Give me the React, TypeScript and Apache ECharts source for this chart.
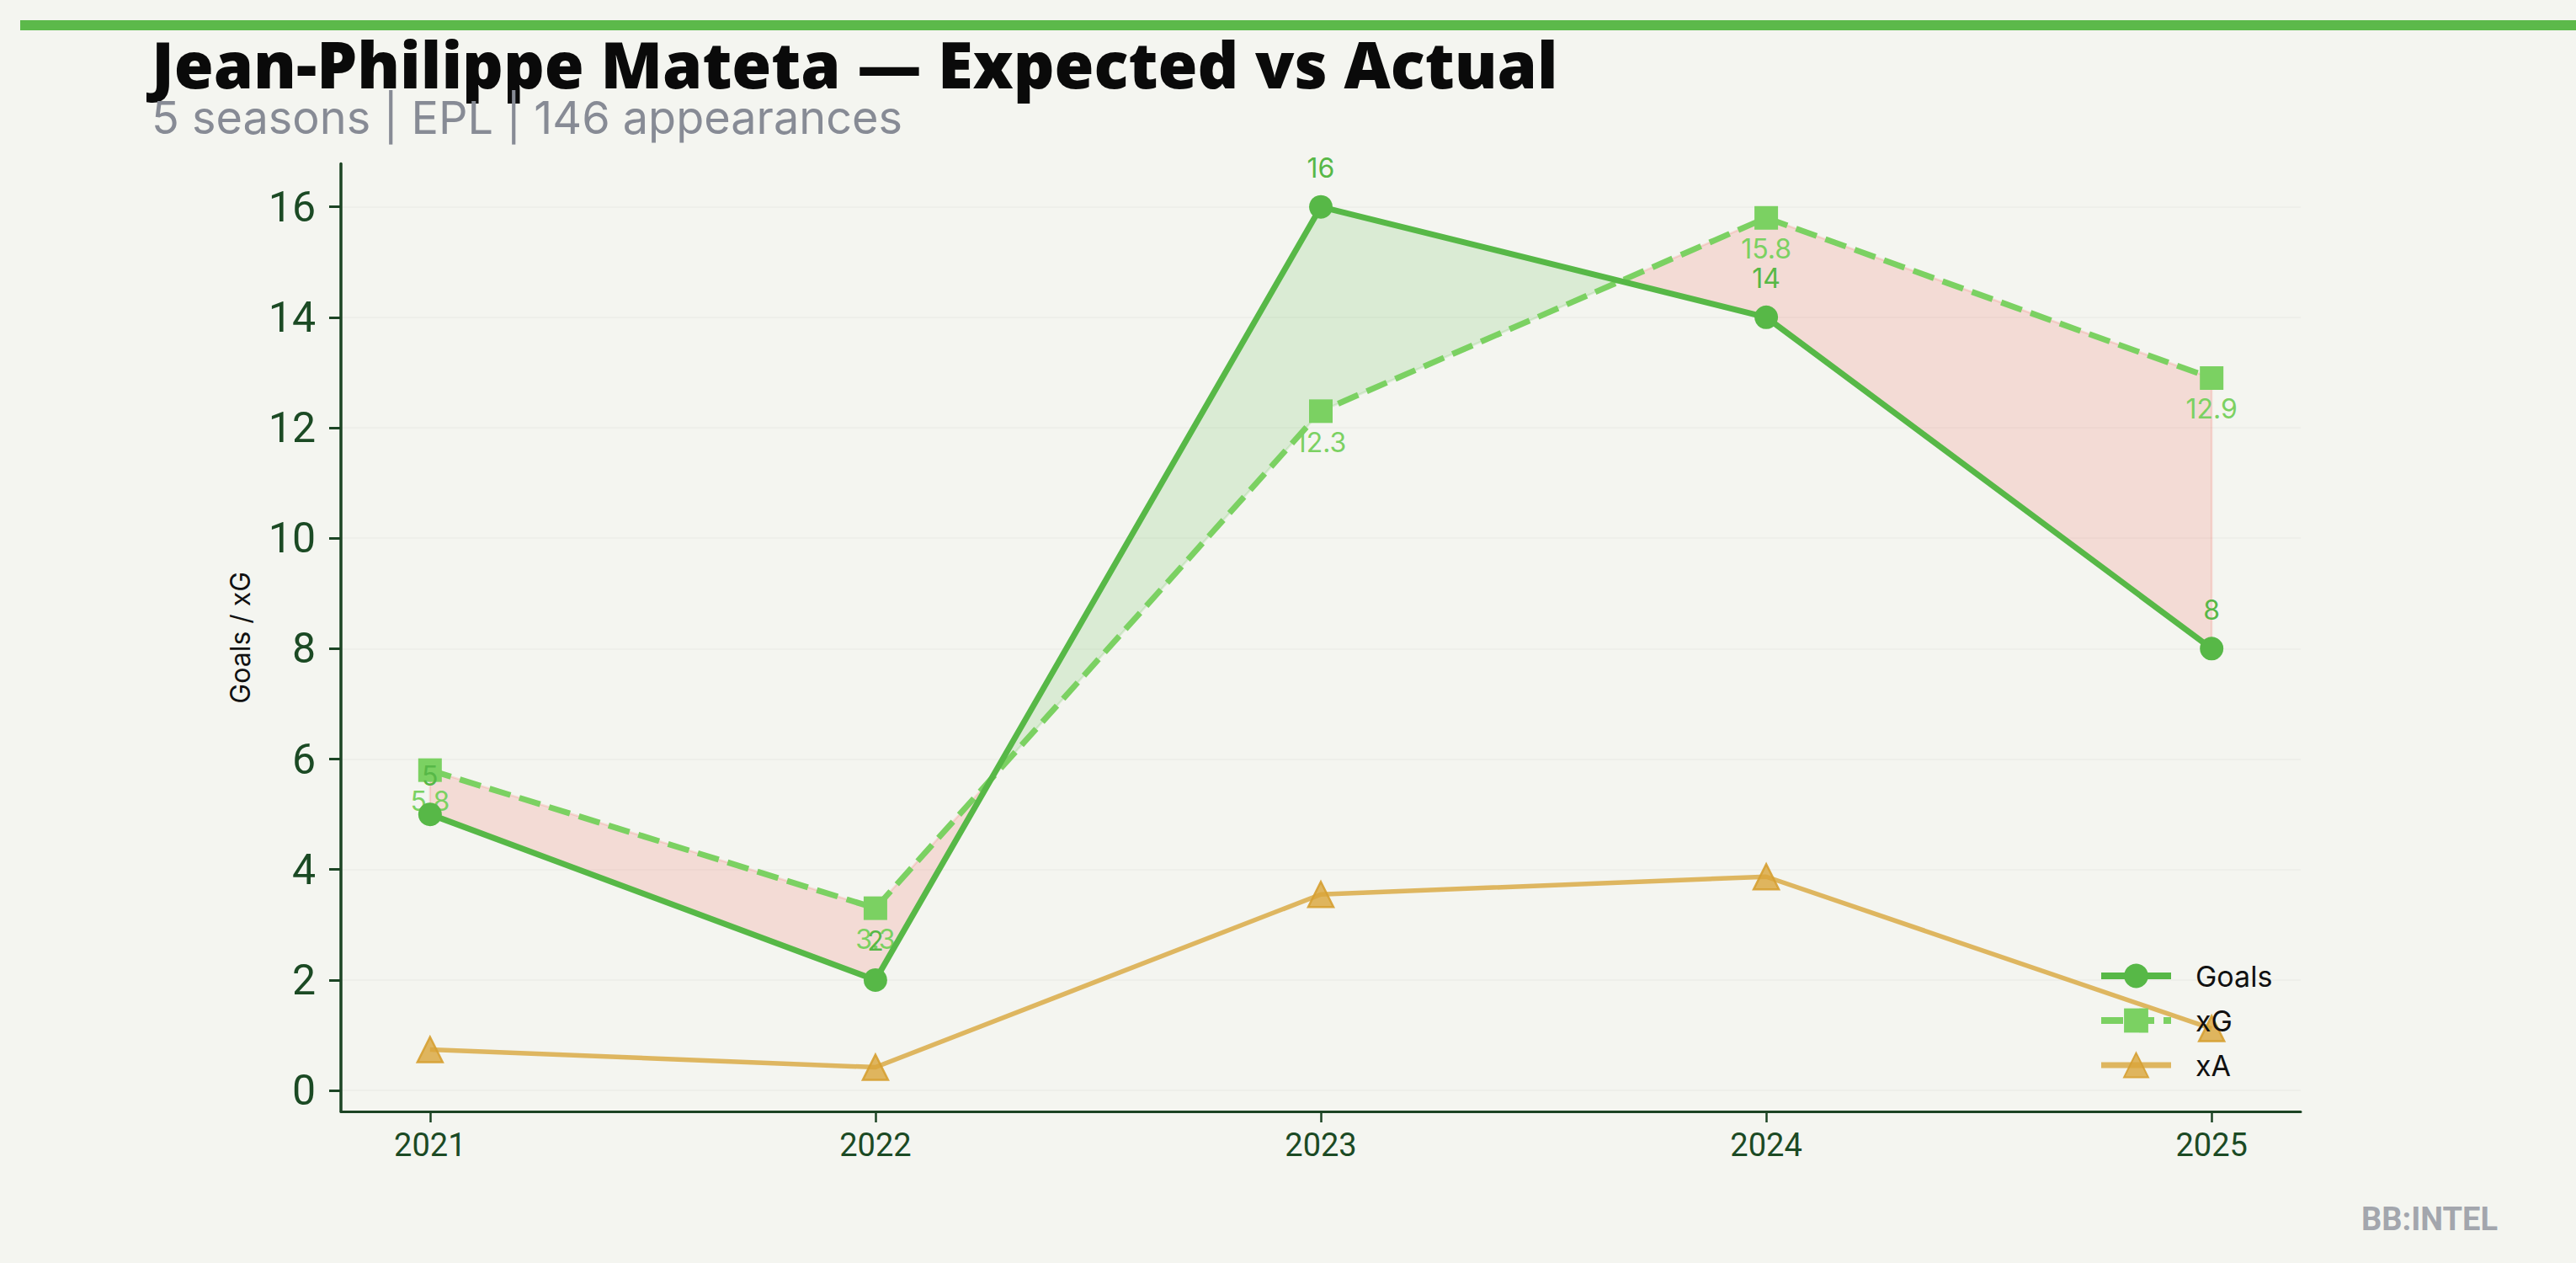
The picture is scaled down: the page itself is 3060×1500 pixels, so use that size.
import React, { useEffect, useRef } from 'react';
import * as echarts from 'echarts';

const seasons = [2021, 2022, 2023, 2024, 2025];
const goals = [5, 2, 16, 14, 8];
const xg = [5.8, 3.3, 12.3, 15.8, 12.9];
const xa = [0.74, 0.42, 3.55, 3.87, 1.12];
const yTicks = [0, 2, 4, 6, 8, 10, 12, 14, 16];
const seriesNames = ['Goals', 'xG', 'xA'];

const TITLE = 'Jean-Philippe Mateta — Expected vs Actual';
const SUBTITLE = '5 seasons | EPL | 146 appearances';
const WATERMARK = 'BB:INTEL';

const BG = '#f4f5f0';
const GOALS_C = '#57b847';
const XG_C = '#7bd162';
const XA_C = '#d9a83f';
const AXIS_C = '#1c4424';
const TICK_TEXT_C = '#1b4a24';
const POS_FILL = 'rgba(87,184,71,0.16)';
const NEG_FILL = 'rgba(240,85,75,0.16)';

type Pt = [number, number];

function buildRegions() {
  const regions: { pos: boolean; g: Pt[]; x: Pt[] }[] = [];
  const d = goals.map((g, i) => g - xg[i]);
  let cur = { pos: d[0] >= 0, g: [[seasons[0], goals[0]] as Pt], x: [[seasons[0], xg[0]] as Pt] };
  for (let i = 0; i < seasons.length - 1; i++) {
    if (d[i] * d[i + 1] < 0) {
      const f = d[i] / (d[i] - d[i + 1]);
      const tc = seasons[i] + f * (seasons[i + 1] - seasons[i]);
      const yc = goals[i] + f * (goals[i + 1] - goals[i]);
      cur.g.push([tc, yc]);
      cur.x.push([tc, yc]);
      regions.push(cur);
      cur = { pos: d[i + 1] > 0, g: [[tc, yc]], x: [[tc, yc]] };
    }
    cur.g.push([seasons[i + 1], goals[i + 1]]);
    cur.x.push([seasons[i + 1], xg[i + 1]]);
  }
  regions.push(cur);
  return regions;
}

export default function App() {
  const ref = useRef<HTMLDivElement>(null);
  useEffect(() => {
    document.body.style.margin = '0';
    document.body.style.background = BG;
    if (!ref.current) return;
    const chart = echarts.init(ref.current, undefined, { renderer: 'svg' });
    const regions = buildRegions();
    const option: any = {
      animation: false,
      backgroundColor: BG,
      grid: { left: 405, right: 327, top: 194.5, bottom: 180, containLabel: false, outerBoundsMode: 'none' },
      xAxis: {
        type: 'value',
        min: 2020.8,
        max: 2025.2,
        axisLine: { show: true, onZero: false, lineStyle: { color: AXIS_C, width: 3 } },
        axisTick: { show: true, customValues: seasons, length: 13, lineStyle: { color: AXIS_C, width: 2.5 } },
        axisLabel: {
          customValues: seasons,
          formatter: (v: number) => String(v),
          fontSize: 38,
          color: TICK_TEXT_C,
          fontFamily: 'Roboto',
          margin: 21,
        },
        splitLine: { show: false },
      },
      yAxis: {
        type: 'value',
        min: -0.38,
        max: 16.78,
        name: 'Goals / xG',
        nameLocation: 'middle',
        nameGap: 104,
        nameTextStyle: { fontSize: 32, color: '#111111', fontFamily: 'Inter' },
        axisLine: { show: true, onZero: false, lineStyle: { color: AXIS_C, width: 3.5 } },
        axisTick: { show: true, customValues: yTicks, length: 14, lineStyle: { color: AXIS_C, width: 3 } },
        axisLabel: {
          customValues: yTicks,
          formatter: (v: number) => String(v),
          fontSize: 50,
          color: TICK_TEXT_C,
          fontFamily: 'Roboto',
          margin: 30,
        },
        splitLine: { show: true, lineStyle: { color: 'rgba(0,0,0,0.022)', width: 2 } },
      },
      legend: {
        data: [
          { name: 'Goals', lineStyle: { width: 8 } },
          { name: 'xG', lineStyle: { width: 8 } },
          { name: 'xA', lineStyle: { width: 7 } },
        ],
        orient: 'vertical',
        left: 2487,
        top: 1137,
        itemWidth: 83,
        itemHeight: 36,
        itemGap: 19,
        textStyle: { fontSize: 34, color: '#111111', fontFamily: 'Inter', padding: [0, 0, 0, 24] },
      },
      graphic: [
        { type: 'rect', shape: { x: 24, y: 24, width: 3036, height: 12 }, style: { fill: '#5cb94a' } },
        {
          type: 'text',
          x: 180,
          y: 75,
          style: {
            text: TITLE,
            fontSize: 76,
            fontWeight: 800,
            fontFamily: 'Open Sans',
            fill: '#0a0a0a',
            align: 'left',
            verticalAlign: 'middle',
          },
        },
        {
          type: 'text',
          x: 180,
          y: 139,
          style: {
            text: SUBTITLE,
            fontSize: 54,
            fontFamily: 'Inter',
            fill: '#878b95',
            align: 'left',
            verticalAlign: 'middle',
          },
        },
        {
          type: 'text',
          x: 2967,
          y: 1448,
          style: {
            text: WATERMARK,
            fontSize: 38,
            fontWeight: 'bold',
            fontFamily: 'Roboto',
            fill: '#a3a6ad',
            align: 'right',
            verticalAlign: 'middle',
          },
        },
      ],
      series: [
        {
          type: 'custom',
          name: 'fill',
          silent: true,
          z: 1,
          data: [[seasons[0], 0]],
          renderItem: (_params: any, api: any) => ({
            type: 'group',
            children: regions.map((r) => ({
              type: 'polygon',
              shape: { points: r.g.concat(r.x.slice().reverse()).map((p) => api.coord(p)) },
              style: {
                fill: r.pos ? POS_FILL : NEG_FILL,
                stroke: r.pos ? POS_FILL : NEG_FILL,
                lineWidth: 2.5,
              },
            })),
          }),
        },
        {
          type: 'line',
          name: 'Goals',
          z: 4,
          data: seasons.map((s, i) => [s, goals[i]]),
          symbol: 'circle',
          symbolSize: 28,
          lineStyle: { color: GOALS_C, width: 7 },
          itemStyle: { color: GOALS_C },
          label: {
            show: true,
            position: 'top',
            distance: 16,
            fontSize: 32,
            fontFamily: 'Inter',
            color: GOALS_C,
            formatter: (p: any) => String(p.value[1]),
          },
          emphasis: { disabled: true },
        },
        {
          type: 'line',
          name: 'xG',
          z: 3,
          data: seasons.map((s, i) => [s, xg[i]]),
          symbol: 'rect',
          symbolSize: 28,
          lineStyle: { color: XG_C, width: 7, type: [26, 11] },
          itemStyle: { color: XG_C },
          label: {
            show: true,
            position: 'bottom',
            distance: 7,
            fontSize: 32,
            fontFamily: 'Inter',
            color: XG_C,
            formatter: (p: any) => String(p.value[1]),
          },
          emphasis: { disabled: true },
        },
        {
          type: 'line',
          name: 'xA',
          z: 2,
          data: seasons.map((s, i) => [s, xa[i]]),
          symbol: 'triangle',
          symbolSize: 30,
          lineStyle: { color: XA_C, width: 5.5, opacity: 0.82 },
          itemStyle: { color: 'rgba(217,165,58,0.8)', borderColor: 'rgba(214,160,50,0.9)', borderWidth: 2.5 },
          label: { show: false },
          emphasis: { disabled: true },
        },
      ],
    };
    chart.setOption(option);
    return () => chart.dispose();
  }, []);
  return <div ref={ref} style={{ width: 3060, height: 1500 }} />;
}
